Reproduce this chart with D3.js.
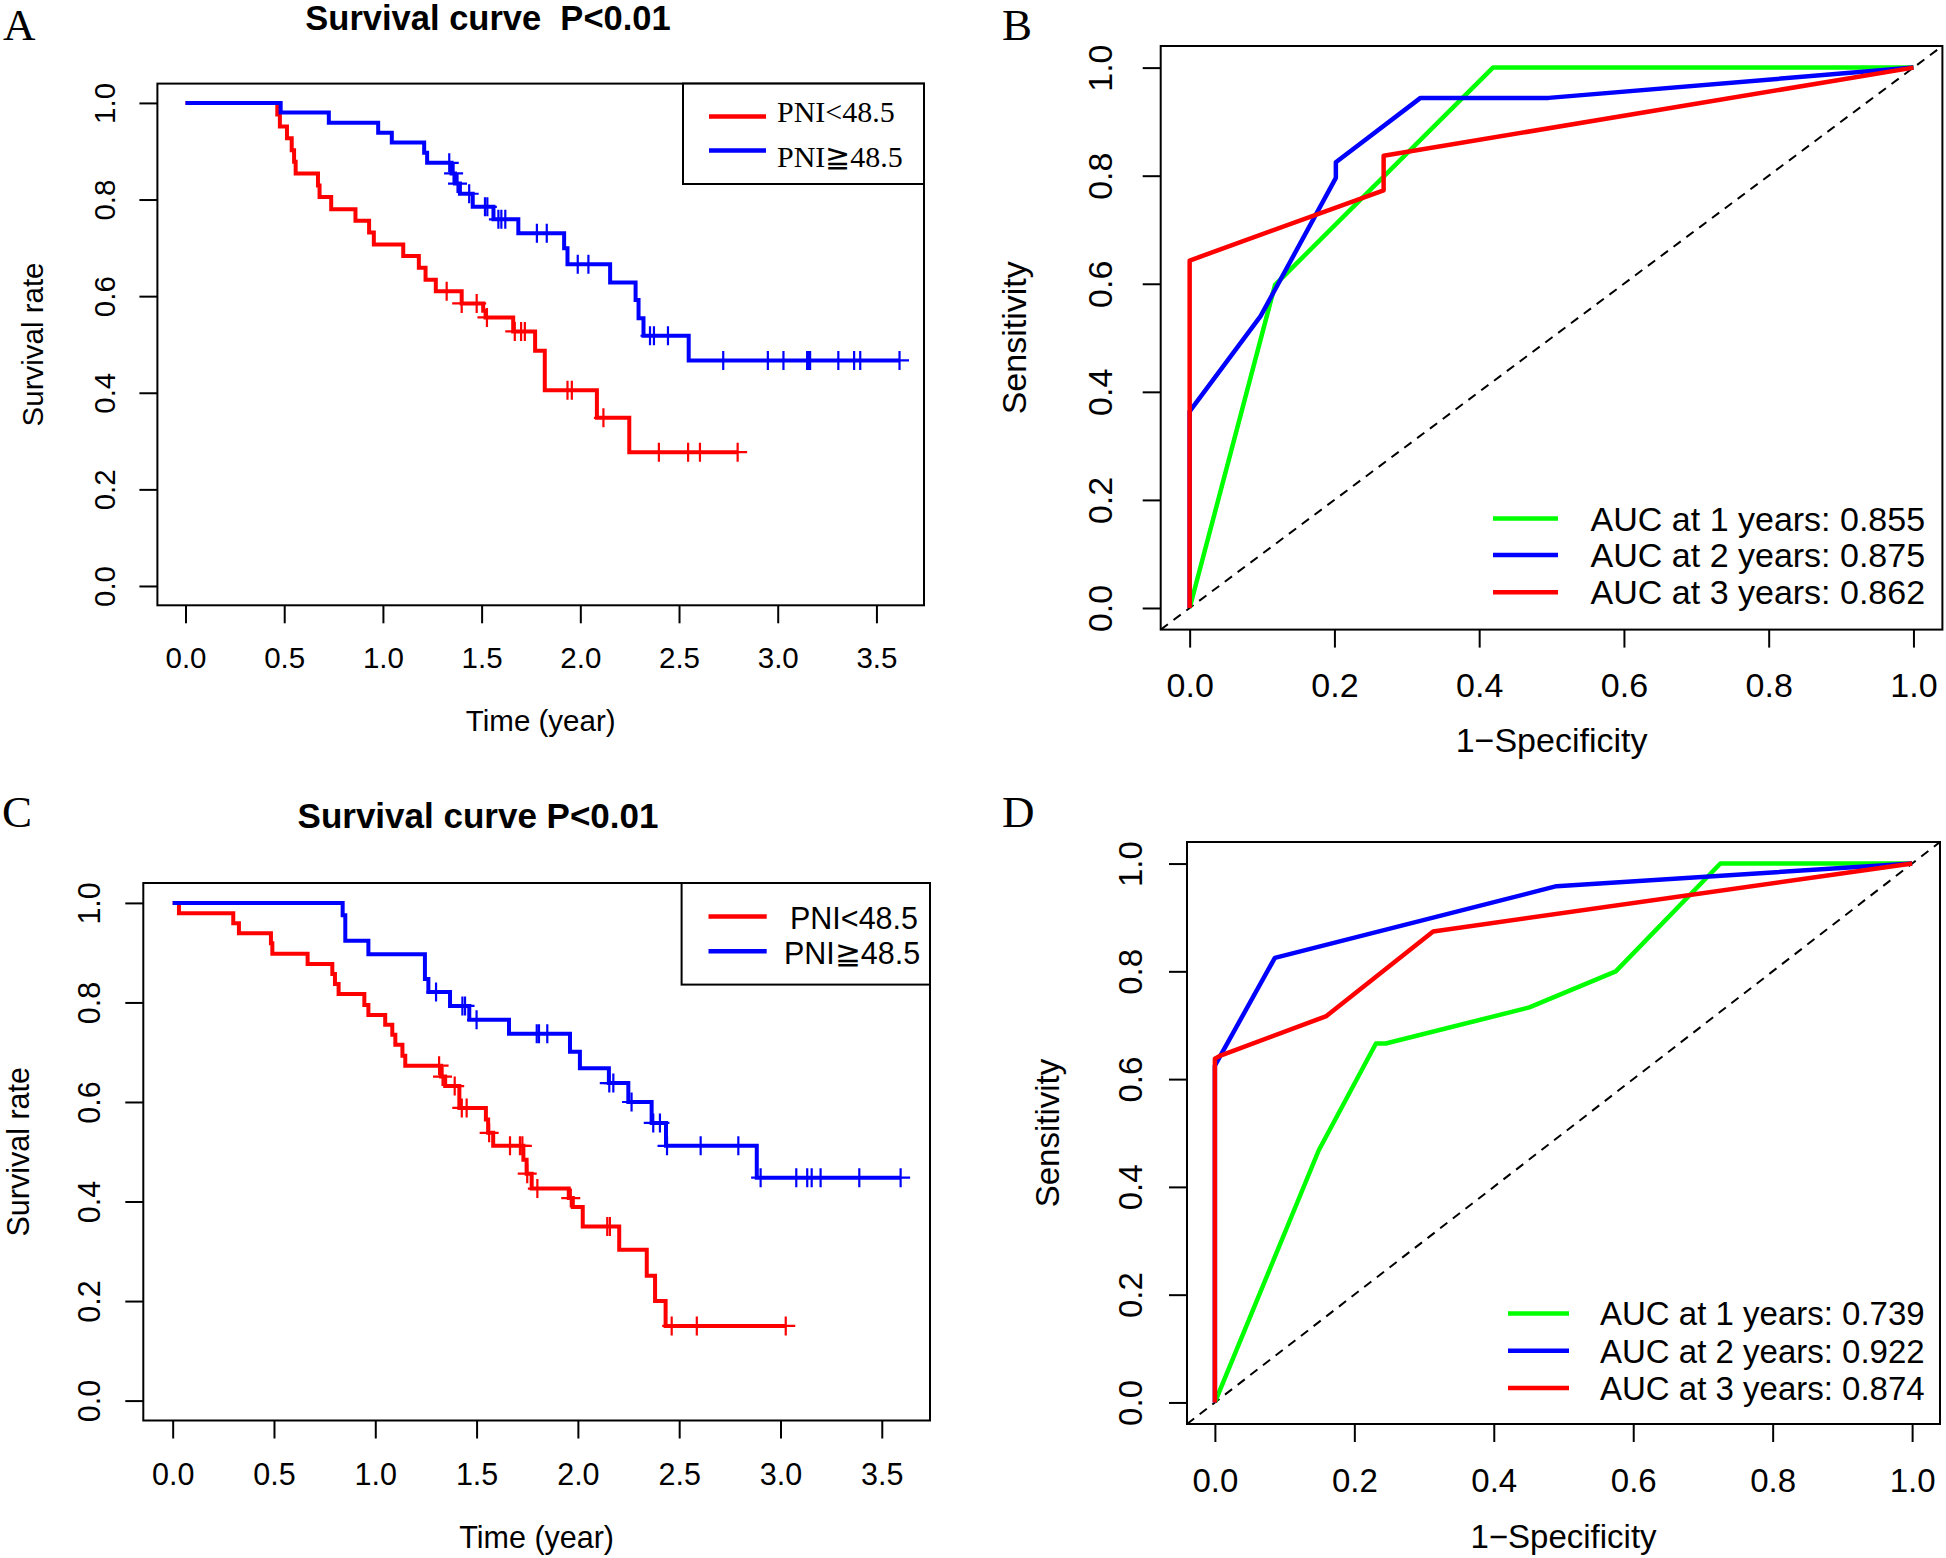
<!DOCTYPE html>
<html>
<head>
<meta charset="utf-8">
<script src="https://cdn.jsdelivr.net/npm/d3@7"></script>
<style>
body { margin: 0; background: #fff; }
</style>
</head>
<body>
<svg id="charts" width="1946" height="1558"></svg>
<script>
// ---- data ----
const timeTicks = [0, 0.5, 1, 1.5, 2, 2.5, 3, 3.5]
const rateTicks = [0, 0.2, 0.4, 0.6, 0.8, 1]
const groupNames = ["PNI<48.5", "PNI\u226748.5"]
const rocYears = [1, 2, 3]
const bAuc = ["0.855", "0.875", "0.862"]
const dAuc = ["0.739", "0.922", "0.874"]

// panel A, PNI<48.5
const aLowTime = [0.465, 0.478, 0.514, 0.538, 0.550, 0.558, 0.671, 0.679, 0.738, 0.861, 0.930, 0.954, 1.103, 1.182, 1.216, 1.268, 1.399, 1.508, 1.520, 1.660, 1.771, 1.820, 2.084, 2.248]
const aLowSurv = [0.976, 0.951, 0.927, 0.902, 0.878, 0.854, 0.829, 0.805, 0.780, 0.756, 0.732, 0.707, 0.683, 0.659, 0.634, 0.610, 0.585, 0.570, 0.556, 0.527, 0.487, 0.405, 0.348, 0.277]
const aLowCens = [1.323, 1.399, 1.475, 1.527, 1.668, 1.700, 1.719, 1.935, 1.957, 2.117, 2.398, 2.546, 2.606, 2.797]
// panel A, PNI>=48.5
const aHighTime = [0.482, 0.726, 0.976, 1.045, 1.209, 1.224, 1.348, 1.365, 1.390, 1.455, 1.560, 1.686, 1.918, 1.935, 2.151, 2.280, 2.295, 2.320, 2.549]
const aHighSurv = [0.980, 0.959, 0.938, 0.918, 0.897, 0.876, 0.854, 0.833, 0.812, 0.785, 0.759, 0.730, 0.699, 0.666, 0.628, 0.592, 0.554, 0.518, 0.467]
const aHighCens = [1.336, 1.358, 1.378, 1.437, 1.517, 1.529, 1.585, 1.600, 1.620, 1.780, 1.830, 1.987, 2.041, 2.353, 2.373, 2.444, 2.724, 2.950, 3.029, 3.149, 3.156, 3.164, 3.307, 3.387, 3.418, 3.617]

// panel C, PNI<48.5
const cLowTime = [0.031, 0.299, 0.327, 0.485, 0.492, 0.666, 0.788, 0.801, 0.819, 0.946, 0.966, 1.049, 1.084, 1.099, 1.134, 1.148, 1.325, 1.345, 1.415, 1.546, 1.557, 1.582, 1.731, 1.747, 1.772, 1.955, 1.975, 2.024, 2.204, 2.340, 2.381, 2.433]
const cLowSurv = [0.979, 0.959, 0.939, 0.919, 0.898, 0.877, 0.857, 0.837, 0.817, 0.795, 0.775, 0.755, 0.735, 0.715, 0.693, 0.673, 0.651, 0.632, 0.588, 0.565, 0.538, 0.512, 0.484, 0.456, 0.426, 0.407, 0.389, 0.350, 0.303, 0.251, 0.200, 0.150]
const cLowCens = [1.315, 1.332, 1.392, 1.427, 1.451, 1.562, 1.665, 1.714, 1.726, 1.750, 1.800, 1.965, 2.145, 2.158, 2.463, 2.587, 3.026]
// panel C, PNI>=48.5
const cHighTime = [0.839, 0.852, 0.966, 1.245, 1.262, 1.369, 1.464, 1.660, 1.961, 2.010, 2.153, 2.249, 2.364, 2.435, 2.883]
const cHighSurv = [0.975, 0.924, 0.897, 0.847, 0.821, 0.793, 0.765, 0.737, 0.701, 0.668, 0.638, 0.600, 0.558, 0.512, 0.448]
const cHighCens = [1.300, 1.430, 1.443, 1.500, 1.797, 1.808, 1.849, 2.155, 2.175, 2.265, 2.372, 2.405, 2.440, 2.606, 2.792, 2.902, 3.078, 3.132, 3.154, 3.198, 3.389, 3.593]

// panel B, ROC
const bFpr1 = [0, 0.118, 0.419, 1]
const bTpr1 = [0, 0.598, 1, 1]
const bFpr2 = [0, 0, 0.098, 0.202, 0.202, 0.319, 0.496, 1]
const bTpr2 = [0, 0.364, 0.540, 0.796, 0.825, 0.944, 0.944, 1]
const bFpr3 = [0, 0, 0.268, 0.268, 1]
const bTpr3 = [0, 0.643, 0.773, 0.837, 1]

// panel D, ROC
const dFpr1 = [0, 0.149, 0.231, 0.245, 0.451, 0.575, 0.725, 1]
const dTpr1 = [0, 0.468, 0.666, 0.666, 0.733, 0.800, 1, 1]
const dFpr2 = [0, 0, 0.086, 0.490, 1]
const dTpr2 = [0, 0.625, 0.825, 0.958, 1]
const dFpr3 = [0, 0, 0.007, 0.160, 0.313, 1]
const dTpr3 = [0, 0.638, 0.643, 0.717, 0.874, 1]

const SANS = "'Liberation Sans', Arial, Helvetica, sans-serif"
const SERIF = "'Liberation Serif', 'Times New Roman', serif"
const RED = "#ff0000", BLUE = "#0000ff", GREEN = "#00ff00"

let svg = d3.select("#charts")


function setupPanel(p) {
    p.x = d3.scaleLinear().domain(p.xDomain).range([p.left, p.right])
    p.y = d3.scaleLinear().domain([-0.04, 1.04]).range([p.bottom, p.top])
    let g = svg.append("g")

    // axes, R style: ticks outside, rotated y labels
    let gx = g.append("g")
        .attr("transform", `translate(0,${p.bottom})`)
        .call(d3.axisBottom(p.x).tickValues(p.xTicks).tickFormat(d3.format(".1f")).tickSize(18).tickSizeOuter(0))
    gx.select(".domain").remove()
    gx.selectAll("line").attr("stroke", "#000").attr("stroke-width", 2)
    gx.selectAll("text")
        .attr("y", p.xLabOff).attr("dy", null)
        .attr("fill", "#000")
        .style("font-size", p.fs + "px")
        .style("font-family", SANS)

    let gy = g.append("g")
        .attr("transform", `translate(${p.left},0)`)
        .call(d3.axisLeft(p.y).tickValues(rateTicks).tickFormat(d3.format(".1f")).tickSize(18).tickSizeOuter(0))
    gy.select(".domain").remove()
    gy.selectAll("line").attr("stroke", "#000").attr("stroke-width", 2)
    gy.selectAll("text")
        .attr("x", 0).attr("y", -p.yLabOff).attr("dy", null)
        .attr("transform", "rotate(-90)")
        .attr("text-anchor", "middle")
        .attr("fill", "#000")
        .style("font-size", p.fs + "px")
        .style("font-family", SANS)

    // axis titles
    g.append("text")
        .text(p.xTitle)
        .attr("x", (p.left + p.right) / 2)
        .attr("y", p.xTitleY)
        .attr("text-anchor", "middle")
        .style("font-size", p.fs + "px")
        .style("font-family", SANS)

    g.append("text")
        .text(p.yTitle)
        .attr("transform", `translate(${p.yTitleX},${(p.top + p.bottom) / 2}) rotate(-90)`)
        .attr("text-anchor", "middle")
        .style("font-size", p.fs + "px")
        .style("font-family", SANS)

    // panel letter
    g.append("text")
        .text(p.letter)
        .attr("x", p.letterX)
        .attr("y", p.letterY)
        .style("font-size", "45px")
        .style("font-family", SERIF)

    g.append("clipPath").attr("id", "clip" + p.letter)
        .append("rect")
        .attr("x", p.left).attr("y", p.top)
        .attr("width", p.right - p.left).attr("height", p.bottom - p.top)

    p.g = g
    p.plot = g.append("g").attr("clip-path", `url(#clip${p.letter})`)
    return p
}

function drawBox(p) {
    p.g.append("rect")
        .attr("x", p.left).attr("y", p.top)
        .attr("width", p.right - p.left).attr("height", p.bottom - p.top)
        .attr("fill", "none")
        .attr("stroke", "#000")
        .attr("stroke-width", 2)
}


/* Kaplan-Meier step curve with censor marks */
function drawKM(p, times, surv, cens, color) {
    let end = d3.max(cens.concat(times))
    let pts = [[0, 1]]
    times.forEach((t, i) => pts.push([t, surv[i]]))
    pts.push([end, surv[surv.length - 1]])

    let line = d3.line()
        .x(d => p.x(d[0]))
        .y(d => p.y(d[1]))
        .curve(d3.curveStepAfter)

    p.g.append("path")
        .datum(pts)
        .attr("d", line)
        .attr("fill", "none")
        .attr("stroke", color)
        .attr("stroke-width", 4)

    let survAt = function (c) {
        let s = 1
        times.forEach((t, i) => { if (t <= c) s = surv[i] })
        return s
    }
    let h = 9.5
    p.g.append("g").selectAll("path")
        .data(cens)
        .enter()
        .append("path")
        .attr("d", c => {
            let cx = p.x(c), cy = p.y(survAt(c))
            return `M${cx - h},${cy}h${2 * h}M${cx},${cy - h}v${2 * h}`
        })
        .attr("stroke", color)
        .attr("stroke-width", 2.2)
}

function drawROC(p, fpr, tpr, color) {
    let pts = fpr.map((f, i) => [f, tpr[i]])
    p.plot.append("path")
        .datum(pts)
        .attr("d", d3.line().x(d => p.x(d[0])).y(d => p.y(d[1])))
        .attr("fill", "none")
        .attr("stroke", color)
        .attr("stroke-width", 4.5)
        .attr("stroke-linejoin", "round")
}


/* ---------- Panel A ---------- */
let pA = setupPanel({
    letter: "A", letterX: 3, letterY: 40,
    left: 157.4, right: 924, top: 83.6, bottom: 605.3,
    xDomain: [-0.1424, 3.741], xTicks: timeTicks,
    fs: 29.5, xLabOff: 62.3, yLabOff: 42.8,
    xTitle: "Time (year)", xTitleY: 731,
    yTitle: "Survival rate", yTitleX: 43
})
pA.g.append("text")
    .text("Survival curve\u00a0\u00a0P<0.01")
    .attr("x", 488).attr("y", 30)
    .attr("text-anchor", "middle")
    .style("font-size", "34.5px")
    .style("font-weight", "bold")
    .style("font-family", SANS)
drawKM(pA, aLowTime, aLowSurv, aLowCens, RED)
drawKM(pA, aHighTime, aHighSurv, aHighCens, BLUE)
drawBox(pA)

// legend A (serif, boxed)
pA.g.append("rect")
    .attr("x", 683).attr("y", pA.top)
    .attr("width", pA.right - 683).attr("height", 184 - pA.top)
    .attr("fill", "#fff").attr("stroke", "#000").attr("stroke-width", 2)
let legA = [{ name: groupNames[0], color: RED, ly: 116.5, ty: 122 },
            { name: groupNames[1], color: BLUE, ly: 150.5, ty: 167 }]
legA.forEach(d => {
    pA.g.append("line")
        .attr("x1", 709).attr("x2", 766).attr("y1", d.ly).attr("y2", d.ly)
        .attr("stroke", d.color).attr("stroke-width", 4.5)
    pA.g.append("text")
        .text(d.name)
        .attr("x", 777).attr("y", d.ty)
        .style("font-size", "30px")
        .style("font-family", SERIF)
})


/* ---------- Panel C ---------- */
let pC = setupPanel({
    letter: "C", letterX: 2, letterY: 827,
    left: 143.3, right: 930, top: 883, bottom: 1420.5,
    xDomain: [-0.145, 3.738], xTicks: timeTicks,
    fs: 30.5, xLabOff: 64.5, yLabOff: 43.3,
    xTitle: "Time (year)", xTitleY: 1548,
    yTitle: "Survival rate", yTitleX: 28.5
})
pC.g.append("text")
    .text("Survival curve P<0.01")
    .attr("x", 478).attr("y", 827.6)
    .attr("text-anchor", "middle")
    .style("font-size", "35px")
    .style("font-weight", "bold")
    .style("font-family", SANS)
drawKM(pC, cLowTime, cLowSurv, cLowCens, RED)
drawKM(pC, cHighTime, cHighSurv, cHighCens, BLUE)
drawBox(pC)

pC.g.append("rect")
    .attr("x", 681.6).attr("y", pC.top)
    .attr("width", pC.right - 681.6).attr("height", 984.6 - pC.top)
    .attr("fill", "#fff").attr("stroke", "#000").attr("stroke-width", 2)
let legC = [{ name: groupNames[0], color: RED, ly: 916.5, tx: 790, ty: 929 },
            { name: groupNames[1], color: BLUE, ly: 951.3, tx: 784, ty: 964 }]
legC.forEach(d => {
    pC.g.append("line")
        .attr("x1", 708.5).attr("x2", 766.7).attr("y1", d.ly).attr("y2", d.ly)
        .attr("stroke", d.color).attr("stroke-width", 4.5)
    pC.g.append("text")
        .text(d.name)
        .attr("x", d.tx).attr("y", d.ty)
        .style("font-size", "30.5px")
        .style("font-family", SANS)
})


/* ---------- ROC panels ---------- */
function rocPanel(cfg, curves, auc) {
    let p = setupPanel(cfg)
    // reference diagonal
    p.plot.append("line")
        .attr("x1", p.x(-0.04)).attr("y1", p.y(-0.04))
        .attr("x2", p.x(1.04)).attr("y2", p.y(1.04))
        .attr("stroke", "#000").attr("stroke-width", 2)
        .attr("stroke-dasharray", "9,7")
    curves.forEach(c => drawROC(p, c[0], c[1], c[2]))
    drawBox(p)

    curves.forEach((c, i) => {
        let ly = cfg.legY[i]
        p.g.append("line")
            .attr("x1", cfg.legX1).attr("x2", cfg.legX2).attr("y1", ly).attr("y2", ly)
            .attr("stroke", c[2]).attr("stroke-width", 4.5)
        p.g.append("text")
            .text(`AUC at ${rocYears[i]} years: ${auc[i]}`)
            .attr("x", cfg.legTX).attr("y", ly + cfg.fs * 0.36)
            .style("font-size", cfg.fs + "px")
            .style("font-family", SANS)
    })
}

rocPanel({
    letter: "B", letterX: 1002, letterY: 40,
    left: 1160.7, right: 1942.4, top: 46, bottom: 629.6,
    xDomain: [-0.04, 1.04], xTicks: rateTicks,
    fs: 34, xLabOff: 67.4, yLabOff: 48.7,
    xTitle: "1\u2212Specificity", xTitleY: 751.5,
    yTitle: "Sensitivity", yTitleX: 1026,
    legX1: 1493, legX2: 1558, legTX: 1590.6, legY: [518.4, 554.9, 592.2]
}, [[bFpr1, bTpr1, GREEN], [bFpr2, bTpr2, BLUE], [bFpr3, bTpr3, RED]], bAuc)

rocPanel({
    letter: "D", letterX: 1002, letterY: 827,
    left: 1187, right: 1940, top: 842, bottom: 1424,
    xDomain: [-0.04, 1.04], xTicks: rateTicks,
    fs: 33, xLabOff: 68, yLabOff: 45,
    xTitle: "1\u2212Specificity", xTitleY: 1547.6,
    yTitle: "Sensitivity", yTitleX: 1059,
    legX1: 1508, legX2: 1569, legTX: 1600, legY: [1313.5, 1350.7, 1388]
}, [[dFpr1, dTpr1, GREEN], [dFpr2, dTpr2, BLUE], [dFpr3, dTpr3, RED]], dAuc)
</script>
</body>
</html>
